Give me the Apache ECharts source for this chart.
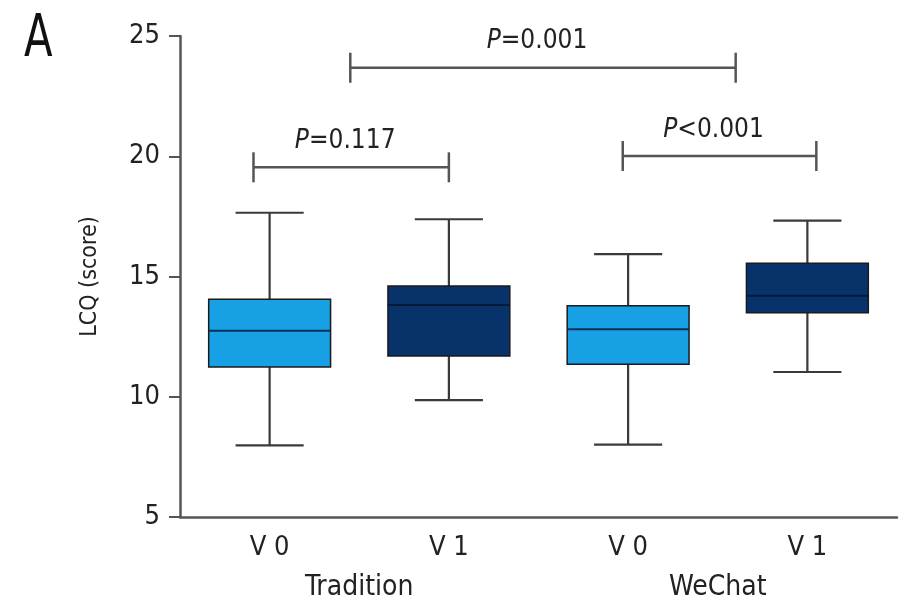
<!DOCTYPE html>
<html>
<head>
<meta charset="utf-8">
<script src="https://cdn.jsdelivr.net/npm/echarts@6/dist/echarts.min.js"></script>
<style>
  html, body { margin: 0; padding: 0; background: #fff; }
  #main { width: 907px; height: 602px; }
</style>
</head>
<body>
<div id="main"></div>
<script>
// data
const groups = ['Tradition', 'WeChat'];
const visits = ['V 0', 'V 1', 'V 0', 'V 1'];
const boxMin = [7.98, 9.86, 8.01, 11.03];
const boxQ1 = [11.24, 11.69, 11.35, 13.49];
const boxMedian = [12.74, 13.81, 12.81, 14.2];
const boxQ3 = [14.05, 14.6, 13.78, 15.55];
const boxMax = [17.65, 17.38, 15.93, 17.32];
const yTicks = [5, 10, 15, 20, 25];

// significance brackets (x in category units, 0..4)
const bracketFrom = [0.41, 0.95, 2.47];
const bracketTo = [1.5, 3.1, 3.55];
const bracketY = [19.54, 23.68, 20.01];
const bracketText = ['=0.117', '=0.001', '<0.001'];

const FONT = "'Liberation Sans Narrow', 'DejaVu Sans Condensed', sans-serif";
const boxColors = ['#17a0e3', '#07336a'];

const chart = echarts.init(document.getElementById('main'));

const boxData = visits.map((v, i) => [i, boxMin[i], boxQ1[i], boxMedian[i], boxQ3[i], boxMax[i]]);
const bracketData = bracketFrom.map((v, i) => [v, bracketTo[i], bracketY[i]]);

function renderBox(params, api) {
  const i = api.value(0);
  const band = api.size([1, 0])[0];
  const bh = band * 0.34, ch = band * 0.19;
  const cx = api.coord([i, api.value(1)])[0];
  const yMin = api.coord([i, api.value(1)])[1];
  const yQ1 = api.coord([i, api.value(2)])[1];
  const yMed = api.coord([i, api.value(3)])[1];
  const yQ3 = api.coord([i, api.value(4)])[1];
  const yMax = api.coord([i, api.value(5)])[1];
  const ws = { stroke: '#3a3a3a', lineWidth: 2.2 };
  return {
    type: 'group',
    children: [
      { type: 'line', shape: { x1: cx, y1: yQ3, x2: cx, y2: yMax }, style: ws },
      { type: 'line', shape: { x1: cx, y1: yQ1, x2: cx, y2: yMin }, style: ws },
      { type: 'line', shape: { x1: cx - ch, y1: yMax, x2: cx + ch, y2: yMax }, style: ws },
      { type: 'line', shape: { x1: cx - ch, y1: yMin, x2: cx + ch, y2: yMin }, style: ws },
      {
        type: 'rect',
        shape: { x: cx - bh, y: yQ3, width: bh * 2, height: yQ1 - yQ3 },
        style: { fill: boxColors[i % 2], stroke: '#1b1b1b', lineWidth: 1.5 }
      },
      {
        type: 'line',
        shape: { x1: cx - bh, y1: yMed, x2: cx + bh, y2: yMed },
        style: { stroke: i % 2 ? '#021a38' : '#0b2f55', lineWidth: 2 }
      }
    ]
  };
}

function renderBracket(params, api) {
  const p0 = api.coord([api.value(0), api.value(2)]);
  const x1 = api.coord([api.value(1), api.value(2)])[0];
  const x0 = p0[0], y = p0[1];
  const ls = { stroke: '#555', lineWidth: 2.5 };
  return {
    type: 'group',
    children: [
      { type: 'line', shape: { x1: x0, y1: y, x2: x1, y2: y }, style: ls },
      { type: 'line', shape: { x1: x0, y1: y - 15, x2: x0, y2: y + 15 }, style: ls },
      { type: 'line', shape: { x1: x1, y1: y - 15, x2: x1, y2: y + 15 }, style: ls },
      {
        type: 'text',
        x: (x0 + x1) / 2 - 6,
        y: y - 13,
        style: {
          text: '{p|P}' + bracketText[params.dataIndex],
          align: 'center',
          verticalAlign: 'bottom',
          fontFamily: FONT,
          fontSize: 26,
          fill: '#222',
          rich: { p: { fontStyle: 'italic', fontFamily: FONT, fontSize: 26, fill: '#222' } }
        }
      }
    ]
  };
}

const option = {
  animation: false,
  backgroundColor: '#fff',
  grid: { left: 180, right: 10, top: 36, bottom: 85 },
  graphic: [
    {
      type: 'text', left: 24, top: 12, scaleX: 0.8,
      style: { text: 'A', fontFamily: FONT, fontSize: 58, fill: '#111' }
    }
  ],
  xAxis: [
    {
      type: 'category',
      data: visits,
      axisLine: { lineStyle: { color: '#555', width: 2.5 } },
      axisTick: { show: false },
      axisLabel: { fontFamily: FONT, fontSize: 27, color: '#222', margin: 17 }
    },
    {
      type: 'category',
      data: groups,
      position: 'bottom',
      offset: 42,
      axisLine: { show: false },
      axisTick: { show: false },
      axisLabel: { fontFamily: FONT, fontSize: 28, color: '#222', margin: 15 }
    },
    { type: 'value', min: 0, max: 4, show: false }
  ],
  yAxis: {
    type: 'value',
    min: yTicks[0],
    max: yTicks[yTicks.length - 1],
    interval: 5,
    name: 'LCQ (score)',
    nameLocation: 'middle',
    nameRotate: 90,
    nameGap: 78,
    nameTextStyle: { fontFamily: FONT, fontSize: 23, color: '#222' },
    axisLine: { show: true, lineStyle: { color: '#555', width: 2.5 } },
    axisTick: { show: true, length: 11, lineStyle: { color: '#555', width: 2 } },
    axisLabel: { fontFamily: FONT, fontSize: 27, color: '#222', margin: 20 },
    splitLine: { show: false }
  },
  series: [
    {
      type: 'custom',
      xAxisIndex: 0,
      yAxisIndex: 0,
      renderItem: renderBox,
      encode: { x: 0, y: [1, 2, 3, 4, 5] },
      data: boxData,
      silent: true
    },
    {
      type: 'custom',
      xAxisIndex: 2,
      yAxisIndex: 0,
      renderItem: renderBracket,
      encode: { x: [0, 1], y: 2 },
      data: bracketData,
      silent: true
    }
  ]
};

chart.setOption(option);
</script>
</body>
</html>
